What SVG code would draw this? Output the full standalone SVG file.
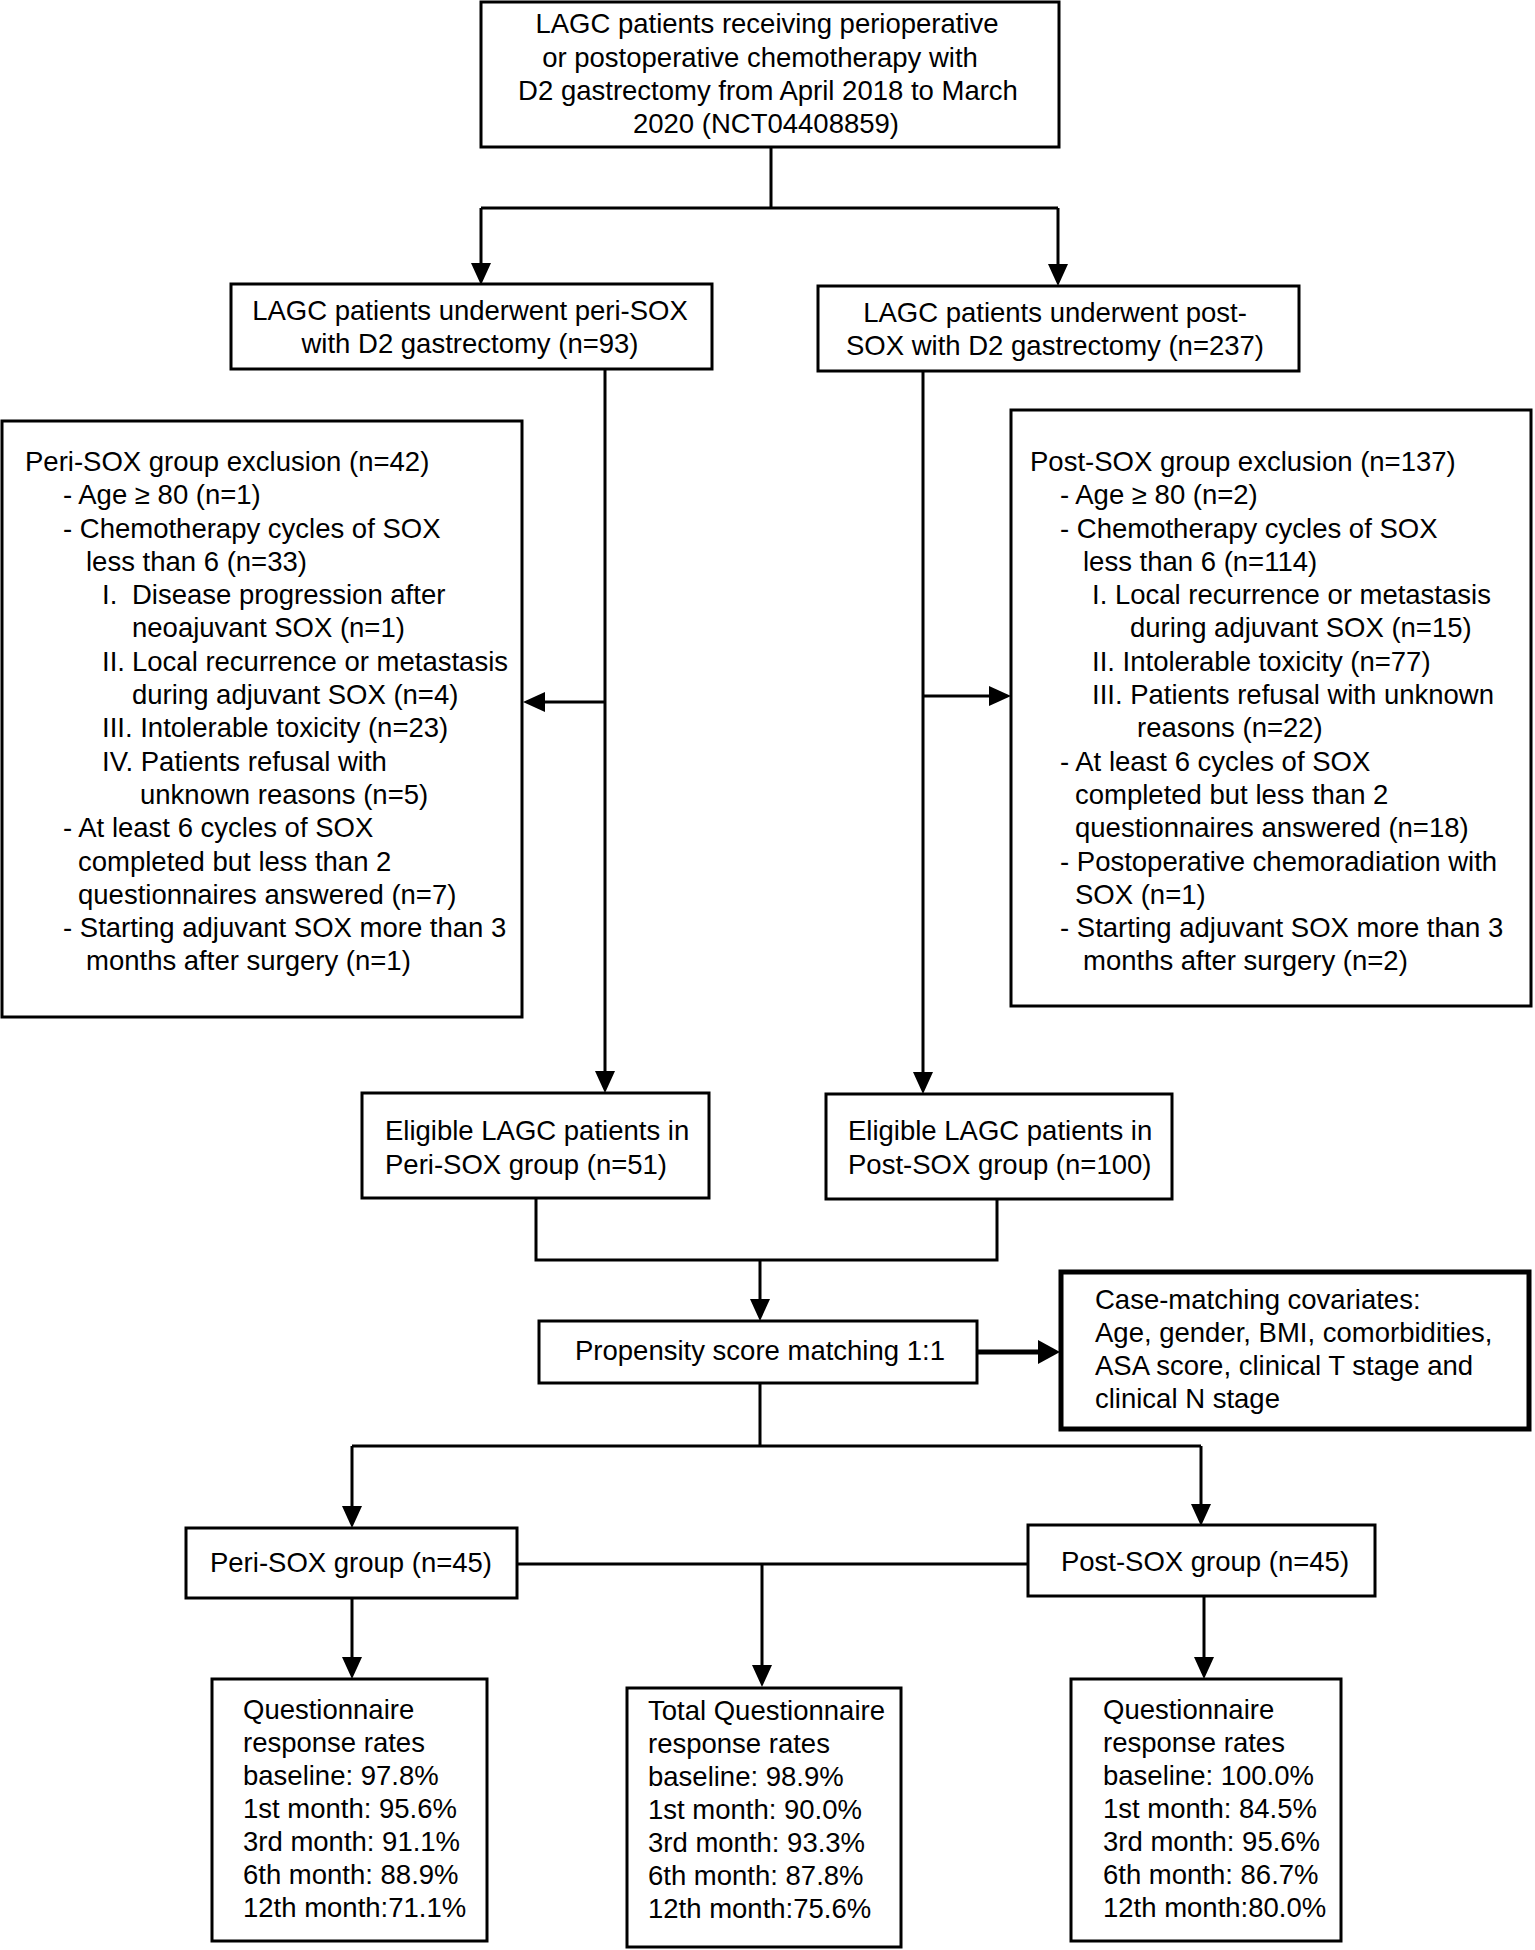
<svg xmlns="http://www.w3.org/2000/svg" width="1535" height="1950" viewBox="0 0 1535 1950">
<defs>
<style>
.box{fill:#fff;stroke:#000;stroke-width:3}
.thick{stroke-width:5}
.t{font-family:"Liberation Sans",Arial,Helvetica,sans-serif;font-size:27.5px;fill:#000}
.c{text-anchor:middle}
.ln{stroke:#000;stroke-width:3;fill:none}
.ln5{stroke:#000;stroke-width:5;fill:none}
</style>
<marker id="arr" markerWidth="22" markerHeight="20" refX="14" refY="10" orient="auto" markerUnits="userSpaceOnUse">
<path d="M0,0 L22,10 L0,20 z" fill="#000"/>
</marker>
<marker id="arrB" markerWidth="22" markerHeight="24" refX="14" refY="12" orient="auto" markerUnits="userSpaceOnUse">
<path d="M0,0 L22,12 L0,24 z" fill="#000"/>
</marker>
</defs>
<rect width="1535" height="1950" fill="#fff"/>

<g id="connectors">
<path class="ln" d="M771,147 V208 M481,208 H1058"/>
<path class="ln" d="M481,208 V277" marker-end="url(#arr)"/>
<path class="ln" d="M1058,208 V278" marker-end="url(#arr)"/>
<path class="ln" d="M605,369 V1085" marker-end="url(#arr)"/>
<path class="ln" d="M923,371 V1086" marker-end="url(#arr)"/>
<path class="ln" d="M605,702 H531" marker-end="url(#arr)"/>
<path class="ln" d="M923,696 H1003" marker-end="url(#arr)"/>
<path class="ln" d="M536,1198 V1260 H997 V1199"/>
<path class="ln" d="M760,1260 V1313" marker-end="url(#arr)"/>
<path class="ln5" d="M977,1352 H1052" marker-end="url(#arrB)"/>
<path class="ln" d="M760,1383 V1446 M352,1446 H1201"/>
<path class="ln" d="M352,1446 V1520" marker-end="url(#arr)"/>
<path class="ln" d="M1201,1446 V1518" marker-end="url(#arr)"/>
<path class="ln" d="M517,1564 H1028"/>
<path class="ln" d="M762,1564 V1679" marker-end="url(#arr)"/>
<path class="ln" d="M352,1598 V1671" marker-end="url(#arr)"/>
<path class="ln" d="M1204,1596 V1671" marker-end="url(#arr)"/>
</g>

<g id="n_top">
<rect class="box" x="481" y="2" width="578" height="145"/>
<text class="t c" x="767" y="33">LAGC patients receiving perioperative</text>
<text class="t c" x="760" y="67">or postoperative chemotherapy with</text>
<text class="t c" x="768" y="100">D2 gastrectomy from April 2018 to March</text>
<text class="t c" x="766" y="133">2020 (NCT04408859)</text>
</g>

<g id="n_peri">
<rect class="box" x="231" y="284" width="481" height="85"/>
<text class="t c" x="470" y="320">LAGC patients underwent peri-SOX</text>
<text class="t c" x="470" y="353">with D2 gastrectomy (n=93)</text>
</g>

<g id="n_post">
<rect class="box" x="818" y="286" width="481" height="85"/>
<text class="t c" x="1055" y="322">LAGC patients underwent post-</text>
<text class="t c" x="1055" y="355">SOX with D2 gastrectomy (n=237)</text>
</g>

<g id="n_excl_peri">
<rect class="box" x="2" y="421" width="520" height="596"/>
<text class="t" x="25" y="471">Peri-SOX group exclusion (n=42)</text>
<text class="t" x="63" y="504">- Age ≥ 80 (n=1)</text>
<text class="t" x="63" y="538">- Chemotherapy cycles of SOX</text>
<text class="t" x="86" y="571">less than 6 (n=33)</text>
<text class="t" y="604"><tspan x="102">I.</tspan><tspan x="132">Disease progression after</tspan></text>
<text class="t" x="132" y="637">neoajuvant SOX (n=1)</text>
<text class="t" y="671"><tspan x="102">II.</tspan><tspan x="132">Local recurrence or metastasis</tspan></text>
<text class="t" x="132" y="704">during adjuvant SOX (n=4)</text>
<text class="t" x="102" y="737">III. Intolerable toxicity (n=23)</text>
<text class="t" x="102" y="771">IV. Patients refusal with</text>
<text class="t" x="140" y="804">unknown reasons (n=5)</text>
<text class="t" x="63" y="837">- At least 6 cycles of SOX</text>
<text class="t" x="78" y="871">completed but less than 2</text>
<text class="t" x="78" y="904">questionnaires answered (n=7)</text>
<text class="t" x="63" y="937">- Starting adjuvant SOX more than 3</text>
<text class="t" x="86" y="970">months after surgery (n=1)</text>
</g>

<g id="n_excl_post">
<rect class="box" x="1011" y="410" width="520" height="596"/>
<text class="t" x="1030" y="471">Post-SOX group exclusion (n=137)</text>
<text class="t" x="1060" y="504">- Age ≥ 80 (n=2)</text>
<text class="t" x="1060" y="538">- Chemotherapy cycles of SOX</text>
<text class="t" x="1083" y="571">less than 6 (n=114)</text>
<text class="t" x="1092" y="604">I. Local recurrence or metastasis</text>
<text class="t" x="1130" y="637">during adjuvant SOX (n=15)</text>
<text class="t" x="1092" y="671">II. Intolerable toxicity (n=77)</text>
<text class="t" x="1092" y="704">III. Patients refusal with unknown</text>
<text class="t" x="1137" y="737">reasons (n=22)</text>
<text class="t" x="1060" y="771">- At least 6 cycles of SOX</text>
<text class="t" x="1075" y="804">completed but less than 2</text>
<text class="t" x="1075" y="837">questionnaires answered (n=18)</text>
<text class="t" x="1060" y="871">- Postoperative chemoradiation with</text>
<text class="t" x="1075" y="904">SOX (n=1)</text>
<text class="t" x="1060" y="937">- Starting adjuvant SOX more than 3</text>
<text class="t" x="1083" y="970">months after surgery (n=2)</text>
</g>

<g id="n_elig_peri">
<rect class="box" x="362" y="1093" width="347" height="105"/>
<text class="t" x="385" y="1140">Eligible LAGC patients in</text>
<text class="t" x="385" y="1174">Peri-SOX group (n=51)</text>
</g>

<g id="n_elig_post">
<rect class="box" x="826" y="1094" width="346" height="105"/>
<text class="t" x="848" y="1140">Eligible LAGC patients in</text>
<text class="t" x="848" y="1174">Post-SOX group (n=100)</text>
</g>

<g id="n_psm">
<rect class="box" x="539" y="1321" width="438" height="62"/>
<text class="t c" x="760" y="1360">Propensity score matching 1:1</text>
</g>

<g id="n_cov">
<rect class="box thick" x="1061" y="1272" width="468" height="157"/>
<text class="t" x="1095" y="1309">Case-matching covariates:</text>
<text class="t" x="1095" y="1342">Age, gender, BMI, comorbidities,</text>
<text class="t" x="1095" y="1375">ASA score, clinical T stage and</text>
<text class="t" x="1095" y="1408">clinical N stage</text>
</g>

<g id="n_grp_peri">
<rect class="box" x="186" y="1528" width="331" height="70"/>
<text class="t c" x="351" y="1572">Peri-SOX group (n=45)</text>
</g>

<g id="n_grp_post">
<rect class="box" x="1028" y="1525" width="347" height="71"/>
<text class="t c" x="1205" y="1571">Post-SOX group (n=45)</text>
</g>

<g id="n_q_peri">
<rect class="box" x="212" y="1679" width="275" height="262"/>
<text class="t" x="243" y="1719">Questionnaire</text>
<text class="t" x="243" y="1752">response rates</text>
<text class="t" x="243" y="1785">baseline: 97.8%</text>
<text class="t" x="243" y="1818">1st month: 95.6%</text>
<text class="t" x="243" y="1851">3rd month: 91.1%</text>
<text class="t" x="243" y="1884">6th month: 88.9%</text>
<text class="t" x="243" y="1917">12th month:71.1%</text>
</g>

<g id="n_q_total">
<rect class="box" x="627" y="1688" width="274" height="259"/>
<text class="t" x="648" y="1720">Total Questionnaire</text>
<text class="t" x="648" y="1753">response rates</text>
<text class="t" x="648" y="1786">baseline: 98.9%</text>
<text class="t" x="648" y="1819">1st month: 90.0%</text>
<text class="t" x="648" y="1852">3rd month: 93.3%</text>
<text class="t" x="648" y="1885">6th month: 87.8%</text>
<text class="t" x="648" y="1918">12th month:75.6%</text>
</g>

<g id="n_q_post">
<rect class="box" x="1071" y="1679" width="270" height="262"/>
<text class="t" x="1103" y="1719">Questionnaire</text>
<text class="t" x="1103" y="1752">response rates</text>
<text class="t" x="1103" y="1785">baseline: 100.0%</text>
<text class="t" x="1103" y="1818">1st month: 84.5%</text>
<text class="t" x="1103" y="1851">3rd month: 95.6%</text>
<text class="t" x="1103" y="1884">6th month: 86.7%</text>
<text class="t" x="1103" y="1917">12th month:80.0%</text>
</g>
</svg>
